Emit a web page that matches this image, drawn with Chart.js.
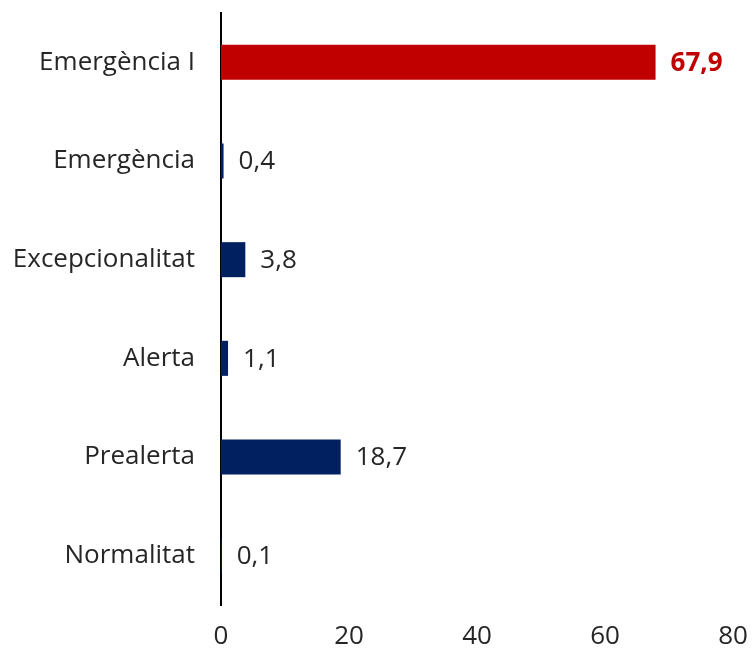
<!DOCTYPE html>
<html><head><meta charset="utf-8">
<script src="https://cdn.jsdelivr.net/npm/chart.js@4/dist/chart.umd.min.js"></script>
<style>html,body{margin:0;padding:0;background:#fff}#wrap{width:753px;height:652px}</style>
</head><body><div id="wrap"><canvas id="c" width="753" height="652"></canvas></div>
<script>
const categories = ["Emergència I","Emergència","Excepcionalitat","Alerta","Prealerta","Normalitat"];
const values = [67.9, 0.4, 3.8, 1.1, 18.7, 0.1];
const barColors = ["#C00000","#002060","#002060","#002060","#002060","#002060"];
const xTicks = [0,20,40,60,80];
const FONT = "'Open Sans', sans-serif";
const FS = 26;

const valueLabels = {
  id:'valueLabels',
  afterDatasetsDraw(chart){
    const ctx = chart.ctx; const meta = chart.getDatasetMeta(0);
    ctx.save();
    ctx.textBaseline='middle'; ctx.textAlign='left';
    meta.data.forEach((bar,i)=>{
      const hi = i===0;
      ctx.font = (hi?'bold ':'')+FS+'px '+FONT;
      ctx.fillStyle = hi ? '#C00000' : '#262626';
      ctx.fillText(values[i].toFixed(1).replace('.',','), bar.x+15, bar.y+1);
    });
    ctx.restore();
  }
};

new Chart(document.getElementById('c'),{
  type:'bar',
  data:{labels:categories,datasets:[{data:values,backgroundColor:barColors,barPercentage:0.355,categoryPercentage:1}]},
  options:{
    indexAxis:'y',responsive:false,animation:false,
    layout:{padding:{top:13,right:20,left:0,bottom:0}},
    plugins:{legend:{display:false},tooltip:{enabled:false}},
    scales:{
      x:{min:0,max:80,afterBuildTicks(s){s.ticks=xTicks.map(v=>({value:v}));},
        grid:{display:false,drawTicks:false},border:{display:false},
        ticks:{padding:16,color:'#262626',font:{family:FONT,size:FS}},
        afterFit(s){s.height=47;s.paddingLeft=0;s.paddingRight=0;}},
      y:{grid:{display:false,drawTicks:false},border:{display:true,color:'#000',width:2},
        ticks:{padding:26,color:'#262626',font:{family:FONT,size:FS}},
        afterFit(s){s.width=221;s.paddingTop=0;s.paddingBottom=0;}}
    }
  },
  plugins:[valueLabels]
});
</script></body></html>
